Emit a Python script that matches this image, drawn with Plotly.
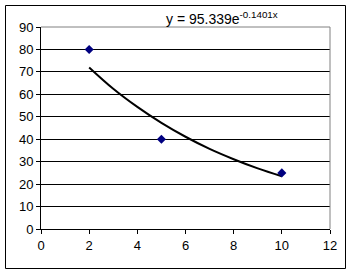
import plotly.graph_objects as go

# Data points
x_vals = [2, 5, 10]
y_vals = [80, 40, 25]

# Exponential trendline
trend_x = [2, 3, 4, 5, 6, 7, 8, 9, 10]
trend_y = [72.0, 62.5, 54.4, 47.3, 41.1, 35.7, 31.1, 27.0, 23.5]

x_ticks = [0, 2, 4, 6, 8, 10, 12]
y_ticks = [0, 10, 20, 30, 40, 50, 60, 70, 80, 90]

equation = "y = 95.339e<sup>-0.1401x</sup>"

fig = go.Figure()
fig.add_trace(go.Scatter(x=trend_x, y=trend_y, mode="lines",
                         line=dict(color="black", width=2, shape="spline"),
                         hoverinfo="skip", showlegend=False))
fig.add_trace(go.Scatter(x=x_vals, y=y_vals, mode="markers",
                         marker=dict(symbol="diamond", size=7, color="#000080"),
                         showlegend=False))

L, R, T, B = 41, 24, 27, 45
W, H = 354, 274
pw, ph = W - L - R, H - T - B

def px2x(px):
    return (px - L) / pw

def py2y(py):
    return (H - B - py) / ph

fig.update_layout(
    width=W, height=H,
    margin=dict(l=L, r=R, t=T, b=B),
    paper_bgcolor="white", plot_bgcolor="white",
    font=dict(family="Liberation Sans, Arial", size=13, color="black"),
    xaxis=dict(range=[0, 12], tickvals=x_ticks, showgrid=False, zeroline=False,
               showline=True, linecolor="black", linewidth=1,
               ticks="outside", ticklen=4, tickcolor="black",
               tickfont=dict(size=13)),
    yaxis=dict(range=[0, 90], tickvals=y_ticks, showgrid=True, gridcolor="black",
               gridwidth=1, zeroline=False,
               showline=True, linecolor="black", linewidth=1,
               ticks="outside", ticklen=4, tickcolor="black",
               tickfont=dict(size=13)),
    shapes=[
        dict(type="rect", xref="paper", yref="paper",
             x0=px2x(5.5), x1=px2x(345.5), y0=py2y(268.5), y1=py2y(5.5),
             line=dict(color="black", width=1), layer="below"),
        dict(type="line", xref="paper", yref="paper", x0=0, x1=1, y0=1, y1=1,
             line=dict(color="#808080", width=1), layer="above"),
        dict(type="line", xref="paper", yref="paper", x0=1, x1=1, y0=0, y1=1,
             line=dict(color="#808080", width=1), layer="above"),
    ],
    annotations=[
        dict(text=equation, xref="paper", yref="paper",
             x=px2x(164), y=py2y(18), xanchor="left", yanchor="middle",
             showarrow=False, font=dict(size=14, color="black")),
    ],
)

fig.write_html("out.html")
